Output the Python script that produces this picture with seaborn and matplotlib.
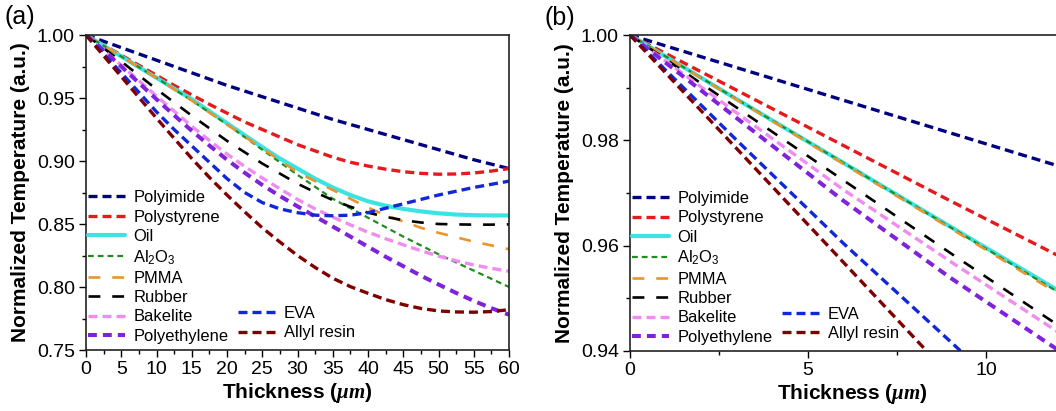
import matplotlib
matplotlib.use("Agg")
import matplotlib.pyplot as plt
import seaborn as sns
from matplotlib.lines import Line2D
from matplotlib.ticker import MultipleLocator, FormatStrFormatter

sns.set_theme(style="white")
plt.rcParams['font.family'] = ['Liberation Sans', 'DejaVu Sans']
plt.rcParams['mathtext.fontset'] = 'custom'
plt.rcParams['mathtext.it'] = 'Liberation Serif:italic:bold'
plt.rcParams['text.color'] = 'black'
plt.rcParams['axes.labelcolor'] = 'black'
plt.rcParams['xtick.color'] = 'black'
plt.rcParams['ytick.color'] = 'black'

# ---------------- data ----------------
names = ["Polyimide", "Polystyrene", "Oil", "Al$_\\mathregular{2}$O$_\\mathregular{3}$",
         "PMMA", "Rubber", "Bakelite", "Polyethylene", "EVA", "Allyl resin"]

# panel (a): thickness 0..60 um (step 2.5)
x_a = [0, 2.5, 5, 7.5, 10, 12.5, 15, 17.5, 20, 22.5, 25, 27.5, 30,
       32.5, 35, 37.5, 40, 42.5, 45, 47.5, 50, 52.5, 55, 57.5, 60]
polyimide_a    = [1.000, 0.995, 0.990, 0.985, 0.980, 0.975, 0.970, 0.965, 0.960, 0.9555, 0.951, 0.9465, 0.942,
                  0.9375, 0.933, 0.929, 0.925, 0.921, 0.917, 0.913, 0.909, 0.905, 0.901, 0.8975, 0.894]
polystyrene_a  = [1.000, 0.992, 0.984, 0.976, 0.968, 0.960, 0.9525, 0.945, 0.938, 0.931, 0.925, 0.919, 0.913,
                  0.908, 0.903, 0.899, 0.896, 0.8935, 0.8915, 0.8902, 0.8895, 0.8897, 0.8905, 0.892, 0.894]
oil_a          = [1.000, 0.9915, 0.983, 0.9745, 0.966, 0.9575, 0.949, 0.9395, 0.930, 0.9205, 0.911, 0.902, 0.894,
                  0.886, 0.879, 0.873, 0.868, 0.8645, 0.862, 0.860, 0.8585, 0.8575, 0.857, 0.8568, 0.8568]
al2o3_a        = [1.000, 0.9915, 0.983, 0.9745, 0.966, 0.957, 0.948, 0.9385, 0.929, 0.919, 0.909, 0.899, 0.889,
                  0.8795, 0.870, 0.8625, 0.855, 0.8475, 0.840, 0.833, 0.826, 0.8195, 0.813, 0.8065, 0.800]
pmma_a         = [1.000, 0.9915, 0.983, 0.9745, 0.966, 0.957, 0.948, 0.9385, 0.929, 0.9195, 0.910, 0.9005, 0.891,
                  0.884, 0.877, 0.870, 0.863, 0.857, 0.852, 0.847, 0.843, 0.8395, 0.836, 0.833, 0.830]
rubber_a       = [1.000, 0.9895, 0.979, 0.968, 0.957, 0.9465, 0.936, 0.926, 0.916, 0.907, 0.898, 0.890, 0.882,
                  0.8752, 0.869, 0.8637, 0.859, 0.8557, 0.853, 0.8512, 0.850, 0.8497, 0.8495, 0.8495, 0.8497]
bakelite_a     = [1.000, 0.988, 0.976, 0.9638, 0.9515, 0.9395, 0.9275, 0.9163, 0.9055, 0.8957, 0.8865, 0.878, 0.8695,
                  0.862, 0.8555, 0.8493, 0.8435, 0.8383, 0.8335, 0.8288, 0.8245, 0.8208, 0.8175, 0.8148, 0.8125]
polyethylene_a = [1.000, 0.9877, 0.975, 0.962, 0.949, 0.9363, 0.924, 0.9123, 0.901, 0.8907, 0.881, 0.8722, 0.864,
                  0.856, 0.848, 0.840, 0.832, 0.824, 0.8165, 0.809, 0.802, 0.7953, 0.789, 0.7832, 0.778]
eva_a          = [1.000, 0.985, 0.970, 0.9545, 0.939, 0.925, 0.912, 0.899, 0.886, 0.875, 0.867, 0.862, 0.859,
                  0.857, 0.8565, 0.857, 0.859, 0.8625, 0.866, 0.8695, 0.873, 0.876, 0.879, 0.8815, 0.884]
allyl_a        = [1.000, 0.9835, 0.967, 0.9505, 0.934, 0.918, 0.902, 0.887, 0.873, 0.8597, 0.847, 0.8357, 0.825,
                  0.8155, 0.807, 0.8003, 0.795, 0.790, 0.786, 0.783, 0.781, 0.7802, 0.780, 0.7805, 0.782]

# panel (b): thickness 0..12 um
x_b = [0, 3, 6, 9, 12]
polyimide_b    = [1.000, 0.9938, 0.9876, 0.9814, 0.9752]
polystyrene_b  = [1.000, 0.9895, 0.9790, 0.9685, 0.9582]
oil_b          = [1.000, 0.9878, 0.9757, 0.9636, 0.9516]
al2o3_b        = [1.000, 0.9878, 0.9757, 0.9635, 0.9513]
pmma_b         = [1.000, 0.9877, 0.9755, 0.9633, 0.9510]
rubber_b       = [1.000, 0.9862, 0.9724, 0.9586, 0.9450]
bakelite_b     = [1.000, 0.9852, 0.9706, 0.9570, 0.9437]
polyethylene_b = [1.000, 0.9842, 0.9685, 0.9539, 0.9403]
eva_b          = [1.000, 0.9800, 0.9604, 0.9418, 0.9230]
allyl_b        = [1.000, 0.9784, 0.9568, 0.9352, 0.9140]

series_a = [polyimide_a, polystyrene_a, oil_a, al2o3_a, pmma_a, rubber_a,
            bakelite_a, polyethylene_a, eva_a, allyl_a]
series_b = [polyimide_b, polystyrene_b, oil_b, al2o3_b, pmma_b, rubber_b,
            bakelite_b, polyethylene_b, eva_b, allyl_b]

# ---------------- styles ----------------
colors = ["#000080", "#E41A1C", "#3DE3E3", "#228B22", "#E8952E", "#000000",
          "#F08CF0", "#7F22DA", "#1028D8", "#7F0000"]
widths = [2.4, 2.4, 3.0, 1.6, 1.9, 1.9, 2.4, 2.9, 2.4, 2.4]
styles = [(0, (2.7, 1.5)), (0, (2.7, 1.5)), "-", (0, (2.6, 1.8)),
          (0, (4.5, 4.5)), (0, (4.5, 4.5)), (0, (2.7, 1.5)), (0, (2.2, 1.5)),
          (0, (2.7, 1.5)), (0, (2.7, 1.5))]

fig = plt.figure(figsize=(10.56, 4.11), dpi=100)
ax1 = fig.add_axes([86/1056, 61/411, 423/1056, 315/411])
ax2 = fig.add_axes([630/1056, 60/411, 12.5*35.6/1056, 316/411])

for ax, xs, ser in [(ax1, x_a, series_a), (ax2, x_b, series_b)]:
    for vals, c, w, ls in zip(ser, colors, widths, styles):
        sns.lineplot(x=xs, y=vals, ax=ax, color=c, lw=w, linestyle=ls,
                     estimator=None)

ax1.set_xlim(0, 60)
ax1.set_ylim(0.75, 1.0)
ax1.xaxis.set_major_locator(MultipleLocator(5))
ax1.xaxis.set_minor_locator(MultipleLocator(2.5))
ax1.yaxis.set_major_locator(MultipleLocator(0.05))
ax1.yaxis.set_minor_locator(MultipleLocator(0.025))

ax2.set_xlim(0, 12.5)
ax2.set_ylim(0.94, 1.0)
ax2.xaxis.set_major_locator(MultipleLocator(5))
ax2.xaxis.set_minor_locator(MultipleLocator(2.5))
ax2.yaxis.set_major_locator(MultipleLocator(0.02))
ax2.yaxis.set_minor_locator(MultipleLocator(0.01))

handles = [Line2D([], [], color=c, lw=w, linestyle=ls)
           for c, w, ls in zip(colors, widths, styles)]
blank = Line2D([], [], linestyle="none")
leg_handles = handles[:8] + [blank] * 6 + handles[8:]
leg_labels = names[:8] + [""] * 6 + names[8:]

for ax in (ax1, ax2):
    ax.yaxis.set_major_formatter(FormatStrFormatter("%.2f"))
    ax.tick_params(which="both", direction="out", bottom=True, left=True,
                   top=False, right=False, width=1.0, labelsize=14, colors="black",
                   pad=3)
    ax.tick_params(which="major", length=5)
    ax.tick_params(which="minor", length=3)
    for sp in ax.spines.values():
        sp.set_color("#222222")
        sp.set_linewidth(1.2)
    ax.set_xlabel("Thickness ($\\mu m$)", fontsize=15, fontweight="bold", labelpad=2)
    ax.set_ylabel("Normalized Temperature (a.u.)", fontsize=15, fontweight="bold", labelpad=5)
    ax.legend(leg_handles, leg_labels, ncol=2, loc="lower left",
              bbox_to_anchor=(0.004, 0.02), borderaxespad=0, borderpad=0,
              frameon=False, fontsize=11.9, handlelength=2.25, handletextpad=0.5,
              labelspacing=0.26, columnspacing=0.6)

fig.text(4/1056, 1 - 17/411, "(a)", fontsize=18, va="center", ha="left")
fig.text(545/1056, 1 - 18/411, "(b)", fontsize=18, va="center", ha="left")

fig.savefig("out.png", dpi=100, facecolor="white")
